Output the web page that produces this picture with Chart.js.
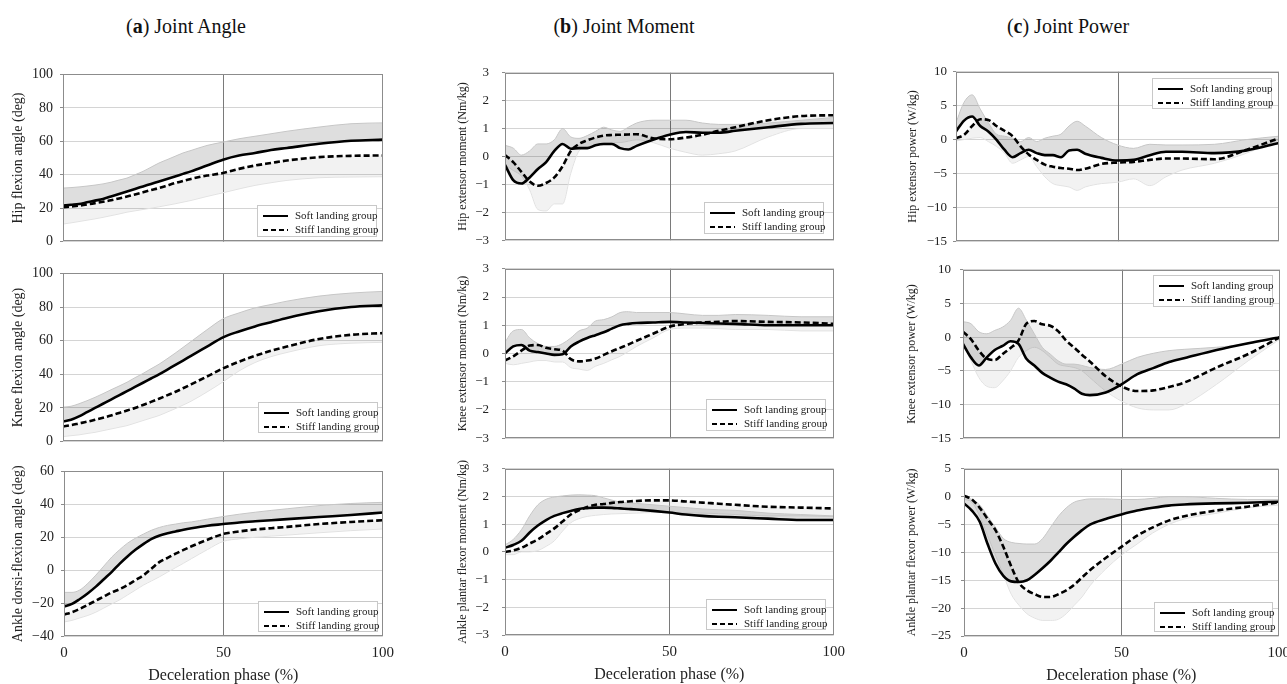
<!DOCTYPE html>
<html>
<head>
<meta charset="utf-8">
<script src="https://cdn.jsdelivr.net/npm/chart.js@4"></script>
<style>
  body { margin: 0; background: #fff; width: 1287px; height: 684px; position: relative; overflow: hidden;
         font-family: "Liberation Serif", "Times New Roman", serif; }
  .title { position: absolute; top: 15px; width: 300px; text-align: center; font-size: 20px; color: #111; }
  .legend { position: absolute; background: #fff; border: 1px solid #c8c8c8; box-sizing: border-box;
            padding: 2px 0 0 5px; font-size: 11px; color: #222; z-index: 2; }
  .legend div { height: 14px; line-height: 14px; white-space: nowrap; }
  .legend svg { vertical-align: middle; margin-right: 7px; }
</style>
</head>
<body>
<div class="title" style="left:36px">(<b>a</b>) Joint Angle</div>
<div class="title" style="left:474px">(<b>b</b>) Joint Moment</div>
<div class="title" style="left:918px">(<b>c</b>) Joint Power</div>

<script>
const SERIF = '"Liberation Serif", "Times New Roman", serif';

// deceleration phase (%)
const phase = [0, 2.5, 5, 7.5, 10, 12.5, 15, 17.5, 20, 22.5, 25, 27.5, 30, 32.5, 35, 37.5, 40, 45, 50, 55, 60, 65, 70, 80, 90, 100];

// (a) joint angle
const hipAngleSoft   = [21.5, 22, 22.5, 23.5, 24.5, 25.5, 27, 28.5, 30, 31.5, 33, 34.5, 36, 37.5, 39, 40.5, 42, 45.5, 49, 51.5, 53, 54.8, 56, 58.5, 60.3, 61];
const hipAngleStiff  = [20.5, 21, 21.5, 22.2, 23, 23.8, 24.7, 25.8, 27, 28.2, 29.5, 30.8, 32, 33.5, 35, 36.3, 37.5, 39.5, 41, 43.5, 45.5, 47, 48.5, 50.5, 51.3, 51.5];
const hipAngleUpper  = [32, 32.3, 32.7, 33.2, 33.8, 34.5, 35.5, 36.8, 38, 40, 42, 44.5, 47, 49, 51, 53, 54.5, 57.5, 59.5, 61.5, 63, 64.5, 66, 68.5, 70.5, 71];
const hipAngleLower  = [10.5, 11.2, 12, 12.8, 13.6, 14.5, 15.5, 16.5, 17.6, 18.4, 19.2, 20, 20.8, 21.7, 22.6, 23.6, 24.6, 27, 29.2, 31.5, 33.6, 35.2, 36.6, 38.2, 38.6, 38.8];

const kneeAngleSoft  = [12, 13, 15, 17.5, 20, 22.5, 25, 27.5, 30, 32.5, 35, 37.5, 40, 42.7, 45.5, 48.2, 51, 56.5, 62, 65.5, 68.5, 71, 73.5, 77.5, 80, 81];
const kneeAngleStiff = [9, 9.8, 10.8, 11.8, 13, 14.2, 15.5, 17, 18.5, 20, 21.8, 23.6, 25.5, 27.5, 29.5, 31.7, 34, 38.7, 43.5, 47.5, 51, 54, 56.5, 61, 63.5, 64.5];
const kneeAngleUpper = [20.5, 21, 22.5, 24.3, 26.3, 28.5, 30.8, 33, 35.3, 38, 40.5, 43.3, 46, 49.2, 52.5, 56, 59.5, 66.5, 73, 76.5, 79.5, 81.5, 83.5, 86.5, 88.3, 89.3];
const kneeAngleLower = [3, 3.5, 4, 4.8, 5.5, 6.5, 7.5, 8.5, 9.5, 11, 12.5, 14, 15.5, 17.5, 19.5, 21.7, 24, 29.5, 35.5, 42, 47, 50.5, 53, 57, 58.5, 59];

const ankleAngleSoft  = [-22, -20.5, -17.5, -14, -10, -5.5, -1, 4, 8.5, 12.5, 16, 19, 21, 22.4, 23.5, 24.6, 25.5, 27, 28, 29, 29.7, 30.3, 31, 32.3, 33.5, 35];
const ankleAngleStiff = [-27, -25.5, -23.5, -21, -18.5, -16, -13.5, -11.5, -9, -6, -3, 1, 5, 7.5, 10, 12.3, 14.5, 18.5, 22, 23.5, 24.7, 25.5, 26.3, 28, 29.3, 30.3];
const ankleAngleUpper = [-13.5, -13.5, -12, -8, -3, 2.5, 8, 12.5, 16.5, 19.5, 22, 24.3, 26, 27.2, 28, 28.8, 29.3, 31, 32.6, 34, 35.2, 36.3, 37.3, 39.2, 40.5, 41.2];
const ankleAngleLower = [-31.5, -30.5, -29, -27.5, -25.5, -23, -20.5, -18, -15, -12, -9, -6.5, -4, -1.2, 1.5, 4.2, 7, 12.5, 17.5, 19, 20, 20.7, 21.3, 22.7, 24, 25];

// (b) joint moment
const hipMomentSoft  = [-0.3, -0.85, -0.97, -0.75, -0.45, -0.2, 0.2, 0.45, 0.28, 0.3, 0.3, 0.4, 0.45, 0.45, 0.3, 0.25, 0.38, 0.6, 0.78, 0.88, 0.85, 0.85, 0.92, 1.05, 1.17, 1.2];
const hipMomentStiff = [0.05, -0.2, -0.55, -0.9, -1.05, -0.95, -0.75, -0.35, 0.2, 0.45, 0.58, 0.68, 0.75, 0.77, 0.78, 0.79, 0.8, 0.65, 0.62, 0.68, 0.78, 0.92, 1.05, 1.3, 1.45, 1.48];
const hipMomentUpper = [0.4, 0.3, 0.05, 0.2, 0.45, 0.45, 0.6, 1.0, 0.7, 0.65, 0.75, 0.9, 1.05, 0.95, 0.9, 1.05, 1.2, 1.3, 1.3, 1.3, 1.2, 1.15, 1.15, 1.2, 1.3, 1.4];
const hipMomentLower = [-0.3, -0.5, -0.7, -1.2, -1.9, -1.95, -1.7, -1.7, -0.6, 0.2, 0.35, 0.4, 0.5, 0.5, 0.5, 0.55, 0.6, 0.5, 0.3, 0.15, 0.05, 0.1, 0.2, 0.7, 1.0, 1.0];

const kneeMomentSoft  = [0.0, 0.25, 0.3, 0.1, 0.05, 0.0, -0.05, -0.03, 0.25, 0.42, 0.55, 0.65, 0.75, 0.88, 1.0, 1.05, 1.08, 1.1, 1.12, 1.1, 1.08, 1.06, 1.05, 1.0, 1.0, 1.0];
const kneeMomentStiff = [-0.25, -0.1, 0.1, 0.28, 0.3, 0.2, 0.15, 0.1, -0.2, -0.28, -0.25, -0.18, -0.05, 0.08, 0.2, 0.32, 0.45, 0.7, 0.95, 1.05, 1.1, 1.12, 1.15, 1.12, 1.1, 1.05];
const kneeMomentUpper = [0.4, 0.8, 0.85, 0.55, 0.35, 0.25, 0.25, 0.35, 0.55, 0.8, 0.9, 1.15, 1.2, 1.3, 1.45, 1.48, 1.45, 1.45, 1.45, 1.4, 1.35, 1.35, 1.38, 1.35, 1.3, 1.3];
const kneeMomentLower = [-0.35, -0.4, -0.35, -0.3, -0.25, -0.25, -0.3, -0.3, -0.5, -0.55, -0.6, -0.45, -0.35, -0.22, -0.1, 0.07, 0.25, 0.55, 0.85, 0.9, 0.9, 0.88, 0.85, 0.85, 0.8, 0.8];

const ankleMomentSoft  = [0.15, 0.25, 0.4, 0.7, 0.95, 1.15, 1.3, 1.4, 1.48, 1.55, 1.58, 1.6, 1.6, 1.59, 1.57, 1.55, 1.53, 1.48, 1.42, 1.35, 1.3, 1.27, 1.25, 1.2, 1.15, 1.15];
const ankleMomentStiff = [0.0, 0.05, 0.15, 0.3, 0.45, 0.65, 0.85, 1.1, 1.35, 1.5, 1.62, 1.7, 1.73, 1.77, 1.8, 1.82, 1.84, 1.86, 1.86, 1.82, 1.78, 1.74, 1.7, 1.63, 1.6, 1.57];
const ankleMomentUpper = [0.25, 0.45, 0.8, 1.3, 1.7, 1.9, 1.98, 2.02, 2.05, 2.06, 2.05, 2.03, 1.95, 1.87, 1.8, 1.77, 1.75, 1.7, 1.65, 1.6, 1.55, 1.52, 1.5, 1.4, 1.35, 1.3];
const ankleMomentLower = [-0.1, -0.1, 0.0, 0.0, 0.05, 0.2, 0.4, 0.75, 1.05, 1.2, 1.28, 1.32, 1.35, 1.37, 1.38, 1.39, 1.4, 1.42, 1.42, 1.41, 1.4, 1.38, 1.35, 1.3, 1.3, 1.28];

// (c) joint power
const hipPowerSoft  = [1.2, 2.8, 3.4, 2.0, 1.2, 0.0, -1.5, -2.6, -2.0, -1.5, -2.0, -2.3, -2.3, -2.6, -1.6, -1.5, -2.1, -2.7, -3.1, -3.0, -2.3, -1.8, -1.8, -2.0, -1.6, -0.5];
const hipPowerStiff = [0.2, 0.7, 2.0, 3.0, 2.9, 2.0, 1.3, 0.5, -1.0, -2.2, -3.0, -3.7, -4.0, -4.2, -4.3, -4.5, -4.3, -3.6, -3.4, -3.3, -3.0, -2.8, -2.8, -2.9, -1.5, 0.2];
const hipPowerUpper = [2.5, 5.5, 6.6, 4.5, 2.5, 0.8, 0.5, 0.2, -0.3, 0.3, -0.3, 0.2, 0.5, 0.8, 2.0, 2.7, 2.0, 0.3, -0.8, -1.3, -0.7, -0.8, -0.8, -0.7, 0.0, 0.5];
const hipPowerLower = [-0.2, 0.0, 0.2, 0.3, -0.3, -1.0, -2.0, -3.5, -3.0, -2.5, -4.0, -5.5, -6.5, -6.8, -7.0, -7.5, -7.0, -6.5, -6.3, -5.8, -6.8, -5.5, -4.5, -3.5, -2.0, 0.0];

const kneePowerSoft  = [-1.0, -3.0, -4.2, -3.0, -1.9, -1.3, -0.6, -1.0, -3.2, -4.2, -5.3, -6.0, -6.6, -7.0, -7.6, -8.4, -8.6, -8.2, -7.0, -5.5, -4.6, -3.7, -3.1, -1.9, -0.9, 0.0];
const kneePowerStiff = [0.8, -0.3, -2.0, -3.2, -3.4, -2.5, -1.6, -0.5, 2.0, 2.4, 1.9, 1.7, 0.9, -0.5, -1.5, -2.6, -3.6, -5.8, -7.3, -8.0, -7.9, -7.4, -6.7, -4.5, -2.5, 0.0];
const kneePowerUpper = [2.3, 2.0, 0.8, 0.5, 1.0, 1.5, 2.5, 4.3, 2.5, 0.5, -1.5, -2.5, -3.5, -4.0, -4.0, -4.2, -4.5, -4.8, -4.0, -3.0, -2.4, -2.0, -1.8, -1.5, -1.0, 0.0];
const kneePowerLower = [-1.0, -3.5, -6.0, -7.3, -7.5, -6.5, -5.0, -3.0, -2.0, -1.5, -2.0, -3.0, -4.0, -4.3, -4.5, -5.0, -6.0, -8.0, -9.5, -10.5, -10.8, -10.8, -10.0, -7.0, -3.5, -0.3];

const anklePowerSoft  = [-1.2, -2.5, -4.5, -8.5, -12.0, -14.2, -15.2, -15.3, -15.0, -14.0, -12.8, -11.5, -10.0, -8.5, -7.2, -6.0, -5.0, -4.0, -3.2, -2.5, -2.0, -1.6, -1.4, -1.2, -1.1, -0.9];
const anklePowerStiff = [0.2, -0.5, -2.0, -4.0, -6.0, -9.0, -12.5, -15.5, -16.8, -17.5, -18.0, -18.0, -17.5, -16.8, -15.8, -14.5, -13.2, -11.0, -9.0, -7.0, -5.5, -4.3, -3.5, -2.5, -1.8, -1.0];
const anklePowerUpper = [0.0, -0.5, -1.5, -3.5, -5.5, -7.5, -8.2, -8.4, -8.5, -8.5, -7.5, -5.5, -3.5, -2.0, -1.0, -0.6, -0.4, -0.4, -0.5, -0.5, -0.3, 0.0, 0.0, -0.3, -0.5, -0.5];
const anklePowerLower = [-0.5, -1.0, -3.5, -7.0, -10.5, -14.0, -17.5, -19.5, -21.0, -21.8, -22.2, -22.2, -22.0, -21.0, -19.5, -18.0, -16.0, -13.0, -10.5, -8.5, -6.5, -5.0, -4.0, -3.0, -2.0, -1.5];

const legendLabels = ['Soft landing group', 'Stiff landing group'];
const xTitle = 'Deceleration phase (%)';

const panels = [
  { yTitle: 'Hip flexion angle (deg)', min: 0, max: 100, step: 20,
    soft: hipAngleSoft, stiff: hipAngleStiff, upper: hipAngleUpper, lower: hipAngleLower,
    box: [63, 383, 74, 241], titleX: 18, titleSize: 14, tickSize: 14, tickPad: 7, legend: [257, 205, 120, 32] },
  { yTitle: 'Knee flexion angle (deg)', min: 0, max: 100, step: 20,
    soft: kneeAngleSoft, stiff: kneeAngleStiff, upper: kneeAngleUpper, lower: kneeAngleLower,
    box: [63, 383, 273, 441], titleX: 18, titleSize: 14, tickSize: 14, tickPad: 7, legend: [258, 402, 120, 31] },
  { yTitle: 'Ankle dorsi-flexion angle (deg)', min: -40, max: 60, step: 20, bottom: true,
    soft: ankleAngleSoft, stiff: ankleAngleStiff, upper: ankleAngleUpper, lower: ankleAngleLower,
    box: [64, 383, 471, 636], titleX: 18, titleSize: 14, tickSize: 14, tickPad: 7, legend: [258, 601, 120, 31] },

  { yTitle: 'Hip extensor moment (Nm/kg)', min: -3, max: 3, step: 1,
    soft: hipMomentSoft, stiff: hipMomentStiff, upper: hipMomentUpper, lower: hipMomentLower,
    box: [505, 834, 73, 240], titleX: 463, titleSize: 12, tickSize: 13, tickPad: 13, legend: [704, 202, 120, 32] },
  { yTitle: 'Knee extensor moment (Nm/kg)', min: -3, max: 3, step: 1,
    soft: kneeMomentSoft, stiff: kneeMomentStiff, upper: kneeMomentUpper, lower: kneeMomentLower,
    box: [505, 834, 269, 438], titleX: 463, titleSize: 12, tickSize: 13, tickPad: 13, legend: [706, 399, 120, 32] },
  { yTitle: 'Ankle plantar flexor moment (Nm/kg)', min: -3, max: 3, step: 1, bottom: true,
    soft: ankleMomentSoft, stiff: ankleMomentStiff, upper: ankleMomentUpper, lower: ankleMomentLower,
    box: [505, 834, 469, 635], titleX: 463, titleSize: 12, tickSize: 13, tickPad: 13, legend: [706, 599, 120, 31] },

  { yTitle: 'Hip extensor power (W/kg)', min: -15, max: 10, step: 5,
    soft: hipPowerSoft, stiff: hipPowerStiff, upper: hipPowerUpper, lower: hipPowerLower,
    box: [956, 1279, 72, 241], titleX: 913, titleSize: 12, tickSize: 13, tickPad: 6, legend: [1152, 78, 120, 31] },
  { yTitle: 'Knee extensor power (W/kg)', min: -15, max: 10, step: 5,
    soft: kneePowerSoft, stiff: kneePowerStiff, upper: kneePowerUpper, lower: kneePowerLower,
    box: [963, 1280, 270, 438], titleX: 912, titleSize: 12, tickSize: 13, tickPad: 9, legend: [1153, 275, 120, 32] },
  { yTitle: 'Ankle plantar flexor power (W/kg)', min: -25, max: 5, step: 5, bottom: true,
    soft: anklePowerSoft, stiff: anklePowerStiff, upper: anklePowerUpper, lower: anklePowerLower,
    box: [964, 1279, 469, 636], titleX: 912, titleSize: 12, tickSize: 13, tickPad: 10, legend: [1154, 602, 119, 30] }
];

// plot frame and the 50 % line
const frame = {
  id: 'frame',
  beforeDatasetsDraw(chart) {
    const { ctx, chartArea: a, scales: { x } } = chart;
    const xm = Math.round(x.getPixelForValue(50)) + 0.5;
    ctx.save();
    ctx.strokeStyle = '#7a7a7a';
    ctx.lineWidth = 1;
    ctx.beginPath();
    ctx.moveTo(xm, a.top);
    ctx.lineTo(xm, a.bottom);
    ctx.stroke();
    ctx.restore();
  },
  afterDraw(chart) {
    const { ctx, chartArea: a } = chart;
    ctx.save();
    ctx.strokeStyle = '#8c8c8c';
    ctx.lineWidth = 1;
    ctx.strokeRect(Math.round(a.left) + 0.5, Math.round(a.top) + 0.5,
                   Math.round(a.right - a.left) - 1, Math.round(a.bottom - a.top) - 1);
    ctx.restore();
  }
};

const pts = arr => phase.map((x, i) => ({ x, y: arr[i] }));
const minus = v => String(v).replace('-', '\u2212');

function makePanel(p) {
  const [l, r, t, b] = p.box;
  const cl = Math.round(p.titleX - p.titleSize * 1.2 / 2);
  const yw = l - cl;
  const padT = 10, padR = 14;
  const xh = p.bottom ? 49 : 0;
  const w = r - cl + padR;
  const h = b - t + padT + (p.bottom ? xh : 10);

  const canvas = document.createElement('canvas');
  canvas.width = w;
  canvas.height = h;
  canvas.style.cssText = `position:absolute;left:${cl}px;top:${t - padT}px`;
  document.body.appendChild(canvas);

  const chart = new Chart(canvas, {
    type: 'line',
    data: {
      datasets: [
        { data: pts(p.upper), borderColor: '#c6c6c6', borderWidth: 1, backgroundColor: 'rgba(0,0,0,0.13)', fill: 2, order: 2 },
        { data: pts(p.lower), borderColor: '#e2e2e2', borderWidth: 1, backgroundColor: 'rgba(0,0,0,0.05)', fill: 3, order: 3 },
        { data: pts(p.soft), borderColor: '#000', borderWidth: 2.6, fill: false, order: 0 },
        { data: pts(p.stiff), borderColor: '#000', borderWidth: 2.6, borderDash: [6, 3], fill: false, order: 1 }
      ]
    },
    options: {
      responsive: false,
      maintainAspectRatio: false,
      animation: false,
      events: [],
      layout: { padding: { top: padT, right: padR, bottom: p.bottom ? 0 : 10, left: 0 } },
      elements: { point: { radius: 0 }, line: { cubicInterpolationMode: 'monotone' } },
      plugins: { legend: { display: false }, tooltip: { enabled: false } },
      scales: {
        x: {
          type: 'linear', min: 0, max: 100, display: !!p.bottom,
          grid: { display: false, drawTicks: false },
          border: { display: false },
          ticks: { stepSize: 50, padding: 8, color: '#222', font: { family: SERIF, size: 15 } },
          title: { display: true, text: xTitle, color: '#222', padding: 0, font: { family: SERIF, size: 16 } },
          afterFit: s => { s.height = xh; }
        },
        y: {
          min: p.min, max: p.max,
          grid: { color: '#d4d4d4', tickLength: 3, tickColor: '#8c8c8c' },
          border: { display: false },
          ticks: { stepSize: p.step, autoSkip: false, padding: p.tickPad, color: '#222', callback: minus,
                   font: { family: SERIF, size: p.tickSize } },
          title: { display: true, text: p.yTitle, color: '#222', padding: 0,
                   font: { family: SERIF, size: p.titleSize } },
          afterFit: s => { s.width = yw; }
        }
      }
    },
    plugins: [frame]
  });

  // line the plot area up with the target box
  const a = chart.chartArea;
  const offT = a.top, offB = chart.height - a.bottom, offL = a.left, offR = chart.width - a.right;
  const W = Math.round((r - l) + offL + offR);
  const H = Math.round((b - t) + offT + offB);
  canvas.style.left = Math.round(l - offL) + 'px';
  canvas.style.top = Math.round(t - offT) + 'px';
  chart.resize(W, H);

  const [lx, ly, lw, lh] = p.legend;
  const lg = document.createElement('div');
  lg.className = 'legend';
  lg.style.cssText = `left:${lx}px;top:${ly}px;width:${lw}px;height:${lh}px`;
  lg.innerHTML =
    `<div><svg width="25" height="4"><line x1="0" y1="2" x2="25" y2="2" stroke="#000" stroke-width="2"/></svg>${legendLabels[0]}</div>` +
    `<div><svg width="25" height="4"><line x1="0" y1="2" x2="25" y2="2" stroke="#000" stroke-width="2" stroke-dasharray="5,3"/></svg>${legendLabels[1]}</div>`;
  document.body.appendChild(lg);
}

panels.forEach(makePanel);
</script>
</body>
</html>
